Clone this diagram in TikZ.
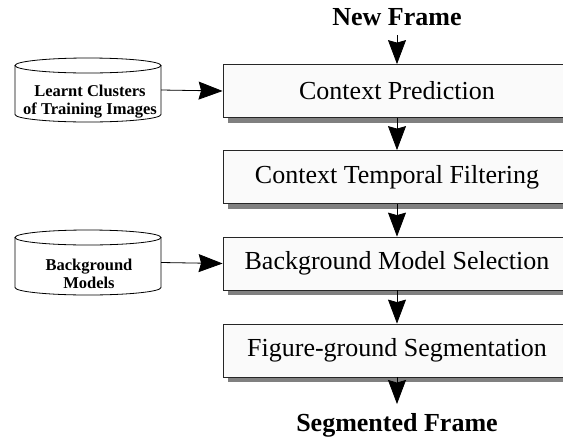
\documentclass[tikz,border=0pt]{standalone}
\usepackage{fontspec}
\setmainfont{Liberation Serif}
\usetikzlibrary{arrows.meta,shadows}
\begin{document}
\begin{tikzpicture}[x=1pt,y=-1pt,
  procbox/.style={draw=black!85, line width=0.8pt, fill=white!98!black,
    minimum width=348pt, minimum height=53pt, inner sep=0pt,
    font=\rmfamily\fontsize{26}{30}\selectfont,
    drop shadow={shadow xshift=5pt, shadow yshift=-5pt, fill=black!50, opacity=1}},
  dblabel/.style={font=\rmfamily\fontsize{16.5}{18}\selectfont\bfseries, align=center, inner sep=0pt},
  dbhold/.style={minimum width=146pt, minimum height=64pt, inner sep=0pt},
  iolabel/.style={font=\rmfamily\fontsize{26}{30}\selectfont\bfseries, inner sep=0pt},
  flow/.style={line width=0.8pt, -{Stealth[length=24pt, width=18pt, inset=2.5pt]}},
  cyl/.style={draw=black, line width=0.8pt, fill=white}
]
\clip (0,0) rectangle (563,440);
\fill[white] (0,0) rectangle (563,440);

% process boxes
\node[procbox] (b1) at (397,91) {Context Prediction};
\node[procbox] (b2) at (397,177) {Context Temporal Filtering};
\node[procbox] (b3) at (397,263.5) {Background Model Selection};
\node[procbox] (b4) at (397,350.5) {Figure-ground Segmentation};

% input / output labels
\node[iolabel] (nf) at (397,17) {New Frame};
\node[iolabel] (sf) at (397,425) {Segmented Frame};
\coordinate (nfa) at (397,35);
\coordinate (sfa) at (397,404);

% cylinder 1
\node[dbhold] (db1) at (88,90) {};
\draw[cyl] (15,65.5) -- (15,114.5) arc[start angle=180, end angle=360, x radius=73, y radius=-7.5] -- (161,65.5);
\draw[cyl] (88,65.5) ellipse[x radius=73, y radius=7.5];
\node[dblabel] (t1) at (90,101.5) {Learnt Clusters\\of Training Images};

% cylinder 2
\node[dbhold] (db2) at (88,262.5) {};
\draw[cyl] (15,237.5) -- (15,287.5) arc[start angle=180, end angle=360, x radius=73, y radius=-7.5] -- (161,237.5);
\draw[cyl] (88,237.5) ellipse[x radius=73, y radius=7.5];
\node[dblabel] (t2) at (89,274) {Background\\Models};

% connectors
\draw[flow] (nfa) -- (b1.north);
\draw[flow] (b1.south) -- (b2.north);
\draw[flow] (b2.south) -- (b3.north);
\draw[flow] (b3.south) -- (b4.north);
\draw[flow] (b4.south) -- (sfa);
\draw[flow] (db1.east) -- (b1.west);
\draw[flow] (db2.east) -- (b3.west);
\end{tikzpicture}
\end{document}
